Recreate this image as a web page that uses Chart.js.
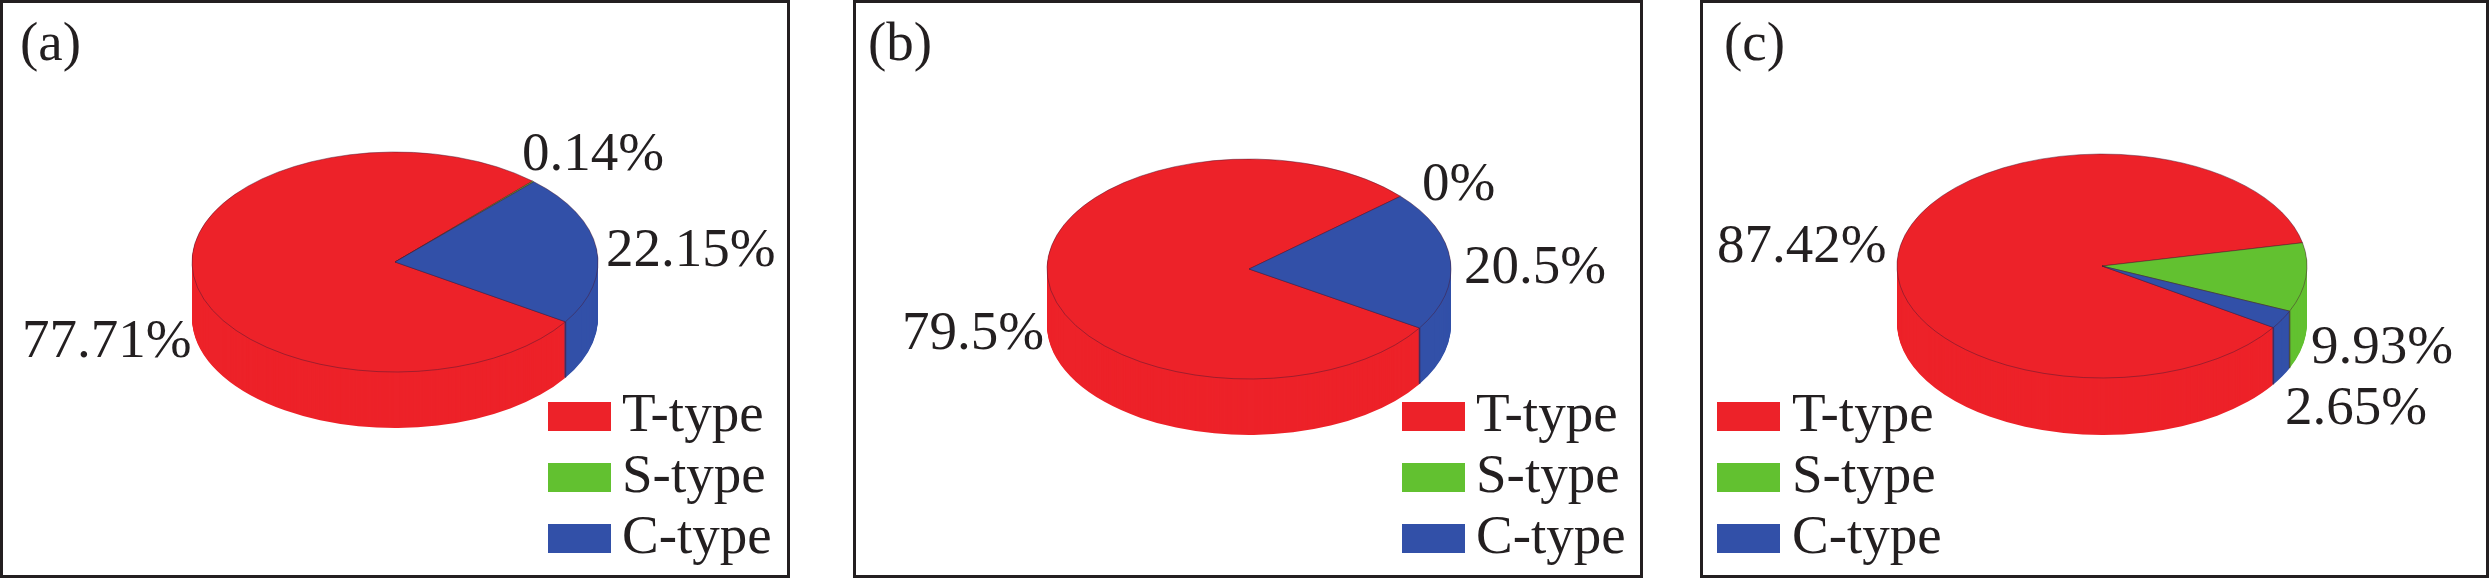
<!DOCTYPE html>
<html>
<head>
<meta charset="utf-8">
<title>Type shares</title>
<script src="https://cdn.jsdelivr.net/npm/chart.js@4/dist/chart.umd.js"></script>
<style>
  html, body { margin: 0; padding: 0; background: #fff; }
  #page { position: relative; width: 2490px; height: 579px; overflow: hidden; }
  canvas { position: absolute; top: 0; }
</style>
</head>
<body>
<div id="page"></div>
<script>
// ─── Data ─────────────────────────────────────────────────────────────────────

const categories = ['T-type', 'S-type', 'C-type'];
const valuesA = [77.71, 0.14, 22.15];
const valuesB = [79.5, 0, 20.5];
const valuesC = [87.42, 9.93, 2.65];
const panelNames = ['(a)', '(b)', '(c)'];

// ─── Styling ──────────────────────────────────────────────────────────────────

const colors = ['#ed2229', '#62c130', '#3250a8'];
const edgeColor = 'rgba(70, 25, 50, 0.6)';
const inkColor = '#231f20';
const textFont = '55px "Liberation Serif", serif';

// page coordinates of everything that is placed by hand
const panels = [
  {
    values: valuesA, name: panelNames[0],
    left: 0, right: 790, nameX: 20, rotation: 122.9,
    cx: 395, cy: 262, rx: 203, ry: 110, depth: 56,
    labels: [[22, 357], [522, 170], [606, 266]],
    swatchX: 548, legendX: 622,
  },
  {
    values: valuesB, name: panelNames[1],
    left: 853, right: 1643, nameX: 868, rotation: 122.4,
    cx: 1249, cy: 269, rx: 202, ry: 110, depth: 56,
    labels: [[902, 349], [1422, 200], [1464, 283]],
    swatchX: 1402, legendX: 1476,
  },
  {
    values: valuesC, name: panelNames[2],
    left: 1700, right: 2489, nameX: 1724, rotation: 123.3,
    cx: 2102, cy: 266, rx: 205, ry: 112, depth: 57,
    labels: [[1717, 262], [2311, 363], [2285, 424]],
    swatchX: 1717, legendX: 1792,
  },
];
const frameTop = 0;
const frameBottom = 578;
const legendRows = [431, 492, 553];
const swatchW = 63;
const swatchH = 29;

// ─── Plugin: squashes the pie into a disc and extrudes its wall ───────────────

const discPlugin = {
  id: 'disc',
  beforeDatasetsDraw(chart, args, opts) {
    const ctx = chart.ctx;
    const arcs = chart.getDatasetMeta(0).data;
    const { cx, cy, k, depth } = opts;

    // wall: the same library arcs, stacked downwards without their outline
    for (let d = depth; d > 0; d--) {
      ctx.save();
      ctx.translate(cx, cy + d);
      ctx.scale(1, k);
      ctx.translate(-cx, -cy);
      arcs.forEach(arc => {
        const own = arc.options;
        arc.options = { ...own, borderWidth: 0 };
        arc.draw(ctx);
        arc.options = own;
      });
      ctx.restore();
    }

    // seams on the front of the wall
    ctx.save();
    ctx.strokeStyle = edgeColor;
    ctx.lineWidth = 1.5;
    arcs.forEach(arc => {
      if (arc.circumference === 0 || Math.sin(arc.endAngle) <= 0) return;
      const x = arc.x + arc.outerRadius * Math.cos(arc.endAngle);
      const y = arc.y + arc.outerRadius * k * Math.sin(arc.endAngle);
      ctx.beginPath();
      ctx.moveTo(x, y);
      ctx.lineTo(x, y + depth);
      ctx.stroke();
    });
    ctx.restore();

    // top face: Chart.js draws it right after this hook
    ctx.save();
    ctx.translate(cx, cy);
    ctx.scale(1, k);
    ctx.translate(-cx, -cy);
  },
  afterDatasetsDraw(chart) {
    chart.ctx.restore();
  },
};

// ─── Plugin: frame, panel name, percentages and legend ────────────────────────

const annotationPlugin = {
  id: 'annotations',
  afterDraw(chart, args, opts) {
    const ctx = chart.ctx;
    const p = opts.panel;
    ctx.save();
    ctx.translate(-p.left, 0);

    ctx.strokeStyle = inkColor;
    ctx.lineWidth = 3;
    ctx.strokeRect(p.left + 1.5, frameTop + 1.5, p.right - p.left - 3, frameBottom - frameTop - 3);

    ctx.fillStyle = inkColor;
    ctx.font = textFont;
    ctx.textBaseline = 'alphabetic';
    ctx.fillText(p.name, p.nameX, 60);

    p.values.forEach((v, i) => {
      ctx.fillText(v + '%', p.labels[i][0], p.labels[i][1]);
    });

    categories.forEach((name, i) => {
      ctx.fillStyle = colors[i];
      ctx.fillRect(p.swatchX, legendRows[i] - swatchH, swatchW, swatchH);
      ctx.fillStyle = inkColor;
      ctx.fillText(name, p.legendX, legendRows[i]);
    });
    ctx.restore();
  },
};

// ─── Charts ───────────────────────────────────────────────────────────────────

function createPanel(p) {
  const page = document.getElementById('page');
  const canvas = document.createElement('canvas');
  const width = p.right - p.left;
  const height = 579;
  canvas.width = width;
  canvas.height = height;
  canvas.style.left = p.left + 'px';
  page.appendChild(canvas);

  // padding only moves the centre of the chart area onto the disc centre
  const cx = p.cx - p.left;
  const padding = {
    left: Math.max(0, 2 * cx - width),
    right: Math.max(0, width - 2 * cx),
    top: Math.max(0, 2 * p.cy - height),
    bottom: Math.max(0, height - 2 * p.cy),
  };

  return new Chart(canvas, {
    type: 'pie',
    data: {
      labels: categories,
      datasets: [{
        data: p.values,
        backgroundColor: colors,
        borderColor: edgeColor,
        borderWidth: 1,
        clip: false,
      }],
    },
    options: {
      responsive: false,
      animation: false,
      devicePixelRatio: 1,
      rotation: p.rotation,
      radius: p.rx,
      layout: { padding },
      plugins: {
        legend: { display: false },
        tooltip: { enabled: false },
        disc: { cx, cy: p.cy, k: p.ry / p.rx, depth: p.depth },
        annotations: { panel: p },
      },
    },
    plugins: [discPlugin, annotationPlugin],
  });
}

panels.forEach(createPanel);
</script>
</body>
</html>
